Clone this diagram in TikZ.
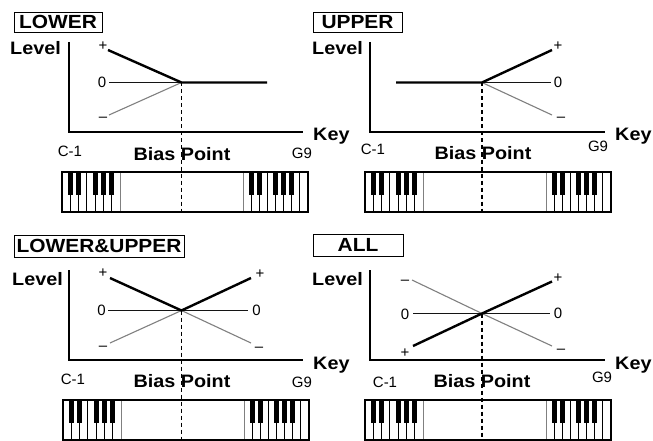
\documentclass[tikz,border=0pt]{standalone}
\usepackage{fontspec}
\setmainfont{Liberation Sans}
\newfontfamily\bfam{Liberation Sans}[FakeStretch=1.1]
\newcommand\kbd[2]{%
  \begin{scope}[shift={(#1,#2)}]
    \fill[white] (0,0) rectangle (246,40);
    \foreach \kk in {1,...,6} \draw[keyline] ({\kk*58/7},0) -- ({\kk*58/7},40);
    \foreach \kk in {1,...,7} \draw[keyline] ({181+\kk*65/8},0) -- ({181+\kk*65/8},40);
    \draw[divider] (58,0) -- (58,40) (181,0) -- (181,40);
    \foreach \kk in {1,2,4,5,6} {
      \fill ({\kk*58/7-2.6},0) rectangle ({\kk*58/7+2.6},23);
      \fill ({181+\kk*65/8-2.6},0) rectangle ({181+\kk*65/8+2.6},23);
    }
    \draw[keyframe] (0,0) rectangle (246,40);
  \end{scope}}
\begin{document}
\begin{tikzpicture}[x=1pt,y=-1pt,
  big/.style={font=\bfam\bfseries\fontsize{18}{20}\selectfont, inner sep=0pt},
  titletext/.style={font=\bfam\bfseries\fontsize{19}{20}\selectfont, inner sep=0pt},
  note/.style={font=\fontsize{15}{16}\selectfont, inner sep=0pt},
  lab/.style={font=\fontsize{15}{16}\selectfont, inner sep=0pt, text height=10.5pt, text depth=0pt},
  titlebox/.style={titletext, draw, line width=0.9pt},
  axis/.style={line width=1.2pt},
  posline/.style={line width=2.4pt},
  zeroline/.style={line width=1.2pt, black!92},
  negline/.style={line width=1.1pt, black!50},
  biasline/.style={line width=1.1pt, dash pattern=on 4pt off 3pt},
  keyframe/.style={line width=1.2pt},
  keyline/.style={line width=0.8pt},
  divider/.style={line width=1pt, black!50},
]
\useasboundingbox (0,0) rectangle (653,441);
\fill[white] (0,0) rectangle (653,441);

% ---------------- LOWER (top left)
\node[titlebox, minimum width=88pt, minimum height=20pt] (tTL) at (58,22) {LOWER};
\node[big, anchor=base west] (lvTL) at (10,55) {Level};
\coordinate (yTL) at (69,42);
\coordinate (oTL) at (69,132);
\coordinate (xTL) at (303,132);
\draw[axis] (yTL) -- (oTL) -- (xTL);
\node[big, anchor=base west] (kTL) at (313,140) {Key};
\node[note, anchor=base] (cTL) at (70,157) {C-1};
\node[big, anchor=base] (bpTL) at (182,160.5) {Bias Point};
\node[note, anchor=base] (gTL) at (302,158) {G9};
\kbd{62}{172}
\coordinate (bTL) at (181.5,82.5);
\coordinate (ppTL) at (108,50);
\coordinate (peTL) at (267,82.5);
\coordinate (zsTL) at (109,82.5);
\coordinate (msTL) at (109,115);
\coordinate (dTL) at (181.5,212);
\node[lab] (pTL) at (103,45) {+};
\node[lab] (zTL) at (102,82.5) {0};
\node[lab] (mTL) at (103,116.5) {–};
\draw[negline] (msTL) -- (bTL);
\draw[zeroline] (zsTL) -- (bTL);
\draw[posline] (ppTL) -- (bTL) -- (peTL);
\draw[biasline] (bTL) -- (dTL);

% ---------------- UPPER (top right)
\node[titlebox, minimum width=89pt, minimum height=20pt] (tTR) at (357.5,22) {UPPER};
\node[big, anchor=base west] (lvTR) at (312,55) {Level};
\coordinate (yTR) at (370,42);
\coordinate (oTR) at (370,132);
\coordinate (xTR) at (605,132);
\draw[axis] (yTR) -- (oTR) -- (xTR);
\node[big, anchor=base west] (kTR) at (615,140) {Key};
\node[note, anchor=base] (cTR) at (373,154) {C-1};
\node[big, anchor=base] (bpTR) at (483,160) {Bias Point};
\node[note, anchor=base] (gTR) at (598,152) {G9};
\kbd{365}{172}
\coordinate (bTR) at (482,82.5);
\coordinate (psTR) at (396,82.5);
\coordinate (ppTR) at (552,50);
\coordinate (zeTR) at (551,82.5);
\coordinate (meTR) at (552,115);
\coordinate (dTR) at (482,212);
\node[lab] (pTR) at (558,45) {+};
\node[lab] (zTR) at (558,82) {0};
\node[lab] (mTR) at (561,116.5) {–};
\draw[negline] (bTR) -- (meTR);
\draw[zeroline] (bTR) -- (zeTR);
\draw[posline] (psTR) -- (bTR) -- (ppTR);
\draw[biasline] (bTR) -- (dTR);

% ---------------- LOWER&UPPER (bottom left)
\node[titlebox, minimum width=170pt, minimum height=22pt] (tBL) at (99,246) {LOWER\&UPPER};
\node[big, anchor=base west] (lvBL) at (12,285) {Level};
\coordinate (yBL) at (69,270);
\coordinate (oBL) at (69,360);
\coordinate (xBL) at (303,360);
\draw[axis] (yBL) -- (oBL) -- (xBL);
\node[big, anchor=base west] (kBL) at (313,369) {Key};
\node[note, anchor=base] (cBL) at (73,384) {C-1};
\node[big, anchor=base] (bpBL) at (182,387) {Bias Point};
\node[note, anchor=base] (gBL) at (302,387) {G9};
\kbd{63}{400}
\coordinate (bBL) at (181.5,310.5);
\coordinate (plBL) at (110,278);
\coordinate (prBL) at (251,278);
\coordinate (zlBL) at (108,310.5);
\coordinate (zrBL) at (248,310.5);
\coordinate (mlBL) at (110,343);
\coordinate (mrBL) at (251,343);
\coordinate (dBL) at (181.5,440);
\node[lab] (p1BL) at (103,272) {+};
\node[lab] (z1BL) at (101.5,310) {0};
\node[lab] (m1BL) at (103,345.5) {–};
\node[lab] (p2BL) at (260,273) {+};
\node[lab] (z2BL) at (256.5,310) {0};
\node[lab] (m2BL) at (259,346.5) {–};
\draw[negline] (mlBL) -- (bBL) -- (mrBL);
\draw[zeroline] (zlBL) -- (zrBL);
\draw[posline] (plBL) -- (bBL) -- (prBL);
\draw[biasline] (bBL) -- (dBL);

% ---------------- ALL (bottom right)
\node[titlebox, minimum width=90pt, minimum height=22pt] (tBR) at (358,245) {ALL};
\node[big, anchor=base west] (lvBR) at (312,285) {Level};
\coordinate (yBR) at (370,270);
\coordinate (oBR) at (370,360);
\coordinate (xBR) at (605,360);
\draw[axis] (yBR) -- (oBR) -- (xBR);
\node[big, anchor=base west] (kBR) at (615,369) {Key};
\node[note, anchor=base] (cBR) at (385,387) {C-1};
\node[big, anchor=base] (bpBR) at (482,387) {Bias Point};
\node[note, anchor=base] (gBR) at (602,382) {G9};
\kbd{365}{400}
\coordinate (bBR) at (482,313.5);
\coordinate (mlBR) at (412,280);
\coordinate (mrBR) at (552,346);
\coordinate (zlBR) at (413,313.5);
\coordinate (zrBR) at (550,313.5);
\coordinate (plBR) at (413,346);
\coordinate (prBR) at (552,281.5);
\coordinate (dBR) at (482,440);
\node[lab] (m1BR) at (405,279.5) {–};
\node[lab] (z1BR) at (405,314) {0};
\node[lab] (p1BR) at (405,352) {+};
\node[lab] (p2BR) at (558,277) {+};
\node[lab] (z2BR) at (558,313) {0};
\node[lab] (m2BR) at (561,348.5) {–};
\draw[negline] (mlBR) -- (bBR) -- (mrBR);
\draw[zeroline] (zlBR) -- (zrBR);
\draw[posline] (plBR) -- (bBR) -- (prBR);
\draw[biasline] (bBR) -- (dBR);
\end{tikzpicture}
\end{document}
